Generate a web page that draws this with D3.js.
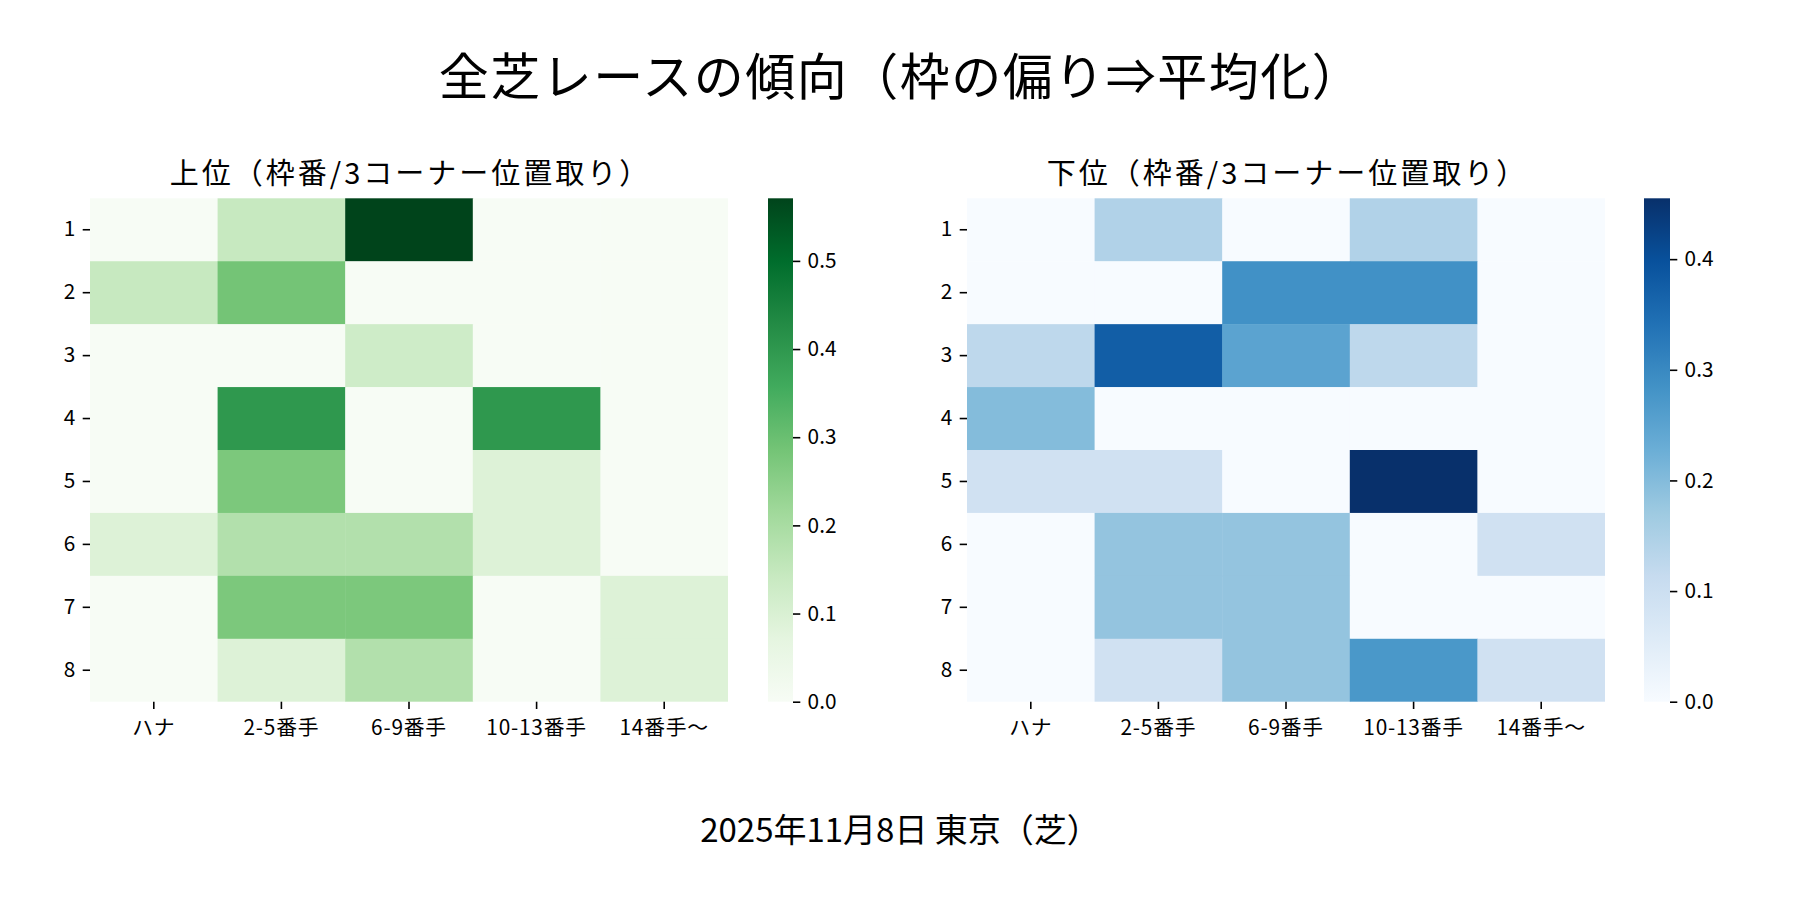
<!DOCTYPE html>
<html>
<head>
<meta charset="utf-8">
<script src="https://cdn.jsdelivr.net/npm/d3@7"></script>
<style>
  body { margin: 0; background: #fff; }
  svg { display: block; }
</style>
</head>
<body>
<div id="chart"></div>
<script>
// 3コーナー位置取り (columns) x 枠番 (rows)
var columns = ["ハナ", "2-5番手", "6-9番手", "10-13番手", "14番手～"];
var rows = ["1", "2", "3", "4", "5", "6", "7", "8"];

// 上位
var upperValues = [
  [0, 0.143, 0.571, 0, 0],
  [0.143, 0.286, 0, 0, 0],
  [0, 0, 0.125, 0, 0],
  [0, 0.4, 0, 0.4, 0],
  [0, 0.273, 0, 0.091, 0],
  [0.091, 0.182, 0.182, 0.091, 0],
  [0, 0.273, 0.273, 0, 0.091],
  [0, 0.091, 0.182, 0, 0.091]
];

// 下位
var lowerValues = [
  [0, 0.143, 0, 0.143, 0],
  [0, 0, 0.286, 0.286, 0],
  [0.125, 0.375, 0.25, 0.125, 0],
  [0.2, 0, 0, 0, 0],
  [0.091, 0.091, 0, 0.455, 0],
  [0, 0.182, 0.182, 0, 0.091],
  [0, 0.182, 0.182, 0, 0],
  [0, 0.091, 0.182, 0.273, 0.091]
];

var upperTicks = [0, 0.1, 0.2, 0.3, 0.4, 0.5];
var lowerTicks = [0, 0.1, 0.2, 0.3, 0.4];

// matplotlib Greens / Blues segment colours
var greens = ["#f7fcf5", "#e5f5e0", "#c7e9c0", "#a1d99b", "#74c476", "#41ab5d", "#238b45", "#006d2c", "#00441b"];
var blues = ["#f7fbff", "#deebf7", "#c6dbef", "#9ecae1", "#6baed6", "#4292c6", "#2171b5", "#08519c", "#08306b"];

var W = 1800, H = 900;
var FONT = "'Noto Sans CJK JP', 'Noto Sans', sans-serif";
var TICK = 7.3;

var svg = d3.select("#chart").append("svg")
  .attr("width", W).attr("height", H)
  .attr("font-family", FONT);

svg.append("rect").attr("width", W).attr("height", H).attr("fill", "#fff");

svg.append("text")
  .attr("x", 901).attr("y", 95)
  .attr("text-anchor", "middle")
  .attr("font-size", 50)
  .attr("letter-spacing", 1.5)
  .text("全芝レースの傾向（枠の偏り⇒平均化）");

svg.append("text")
  .attr("x", 900).attr("y", 842)
  .attr("text-anchor", "middle")
  .attr("font-size", 33)
  .text("2025年11月8日 東京（芝）");

var panels = [
  {title: "上位（枠番/3コーナー位置取り）", values: upperValues, colors: greens,
   ticks: upperTicks, left: 90, right: 728, cbLeft: 768, cbRight: 793, id: "g"},
  {title: "下位（枠番/3コーナー位置取り）", values: lowerValues, colors: blues,
   ticks: lowerTicks, left: 967, right: 1605, cbLeft: 1644, cbRight: 1670, id: "b"}
];

var plotTop = 198.3, plotBottom = 701.7;

panels.forEach(function (p) {
  var vmax = d3.max(p.values, function (r) { return d3.max(r); });

  var x = d3.scaleBand().domain(columns).range([p.left, p.right]);
  var y = d3.scaleBand().domain(rows).range([plotTop, plotBottom]);

  var color = d3.scaleLinear()
    .domain(p.colors.map(function (c, i) { return vmax * i / (p.colors.length - 1); }))
    .range(p.colors)
    .interpolate(d3.interpolateRgb);

  var cells = [];
  p.values.forEach(function (r, i) {
    r.forEach(function (v, j) {
      cells.push({row: rows[i], col: columns[j], value: v});
    });
  });

  var g = svg.append("g");

  g.selectAll("rect.cell")
    .data(cells).enter().append("rect")
    .attr("class", "cell")
    .attr("x", function (d) { return x(d.col); })
    .attr("y", function (d) { return y(d.row); })
    .attr("width", function (d) { return d.col === columns[columns.length - 1] ? x.bandwidth() : x.bandwidth() + 0.5; })
    .attr("height", function (d) { return d.row === rows[rows.length - 1] ? y.bandwidth() : y.bandwidth() + 0.5; })
    .attr("fill", function (d) { return color(d.value); });

  svg.append("text")
    .attr("x", (p.left + p.right) / 2 + 1.5).attr("y", 184)
    .attr("text-anchor", "middle")
    .attr("font-size", 29)
    .attr("letter-spacing", 3)
    .text(p.title);

  var yAxis = svg.append("g")
    .attr("transform", "translate(" + p.left + ",0)")
    .call(d3.axisLeft(y).tickSize(TICK).tickPadding(TICK));

  var xAxis = svg.append("g")
    .attr("transform", "translate(0," + plotBottom + ")")
    .call(d3.axisBottom(x).tickSize(TICK).tickPadding(TICK));

  // colorbar
  var grad = svg.append("defs").append("linearGradient")
    .attr("id", "grad-" + p.id)
    .attr("x1", 0).attr("y1", 1).attr("x2", 0).attr("y2", 0);
  grad.selectAll("stop")
    .data(p.colors).enter().append("stop")
    .attr("offset", function (d, i) { return i / (p.colors.length - 1); })
    .attr("stop-color", function (d) { return d; });

  svg.append("rect")
    .attr("x", p.cbLeft).attr("y", plotTop)
    .attr("width", p.cbRight - p.cbLeft).attr("height", plotBottom - plotTop)
    .attr("fill", "url(#grad-" + p.id + ")");

  var cScale = d3.scaleLinear().domain([0, vmax]).range([plotBottom, plotTop]);
  var cAxis = svg.append("g")
    .attr("transform", "translate(" + p.cbRight + ",0)")
    .call(d3.axisRight(cScale).tickValues(p.ticks).tickFormat(d3.format(".1f"))
      .tickSize(TICK).tickPadding(TICK));

  [yAxis, xAxis, cAxis].forEach(function (a) {
    a.attr("font-family", FONT).attr("font-size", 20.8);
    a.select(".domain").remove();
    a.selectAll(".tick line").attr("stroke", "#000").attr("stroke-width", 1.6);
    a.selectAll(".tick text").attr("fill", "#000");
  });
  xAxis.selectAll(".tick text").attr("dy", "0.9em").attr("letter-spacing", 0.8);
});
</script>
</body>
</html>
